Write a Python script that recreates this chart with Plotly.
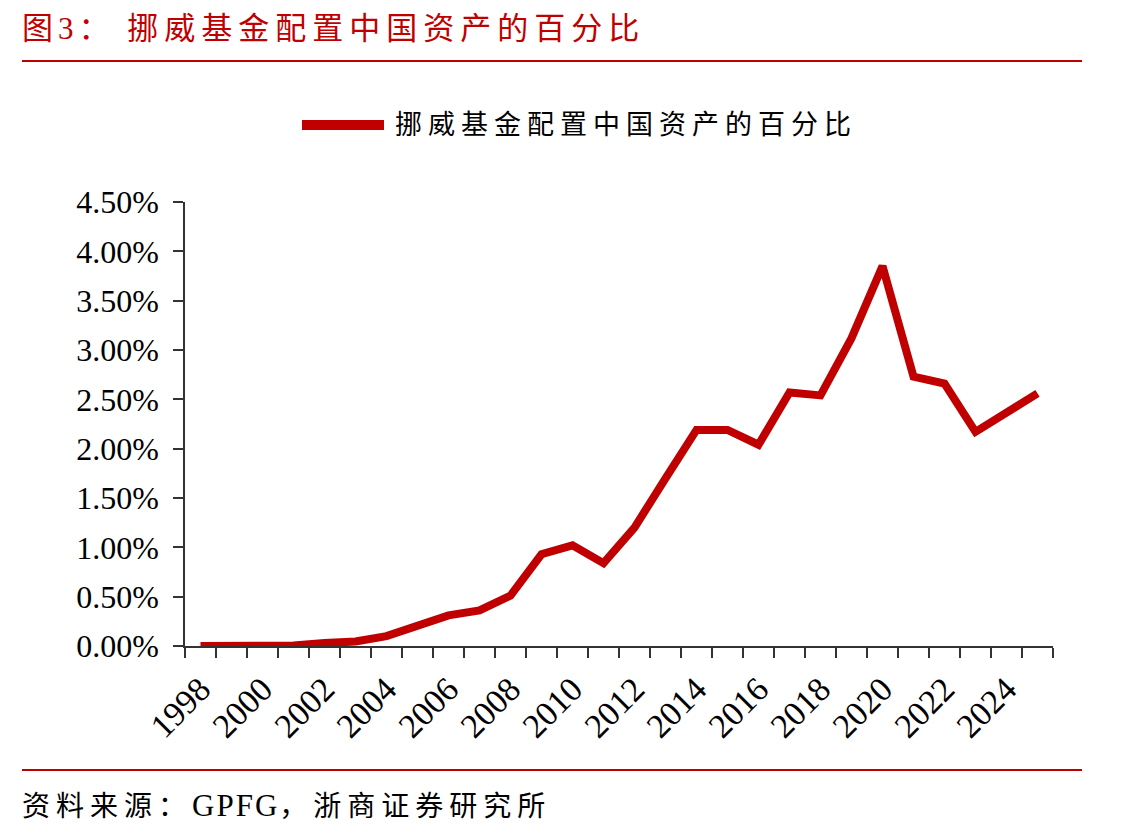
import plotly.graph_objects as go

# ---- data ----
years = list(range(1998, 2026))
share_pct = [0.00, 0.00, 0.00, 0.005, 0.03, 0.045, 0.10, 0.20, 0.31, 0.36,
             0.51, 0.93, 1.02, 0.84, 1.20, 1.70, 2.19, 2.19, 2.04, 2.57,
             2.54, 3.12, 3.85, 2.73, 2.66, 2.17, 2.36, 2.56]
x_tick_years = list(range(1998, 2025, 2))
x_tick_labels = [str(y) for y in x_tick_years]
y_tick_vals = [0, 0.5, 1.0, 1.5, 2.0, 2.5, 3.0, 3.5, 4.0, 4.5]
y_tick_labels = ["%.2f%%" % v for v in y_tick_vals]

series_name = "挪威基金配置中国资产的百分比"
title_prefix = "图3："
title_body = "挪威基金配置中国资产的百分比"
source_parts = ["资料来源：", "GPFG", "，浙商证券研究所"]

# ---- layout constants ----
W, H = 1141, 840
L, R, T, B = 185, 1053, 202, 646
RED = "#C00000"
FONT = "Liberation Serif, Noto Sans CJK SC, serif"


def px(xp):
    return (xp - L) / (R - L)


def py(yp):
    return (B - yp) / (B - T)


def spaced(s, ls, size=None):
    st = "letter-spacing:%dpx" % ls
    if size:
        st += ";font-size:%dpx" % size
    return '<span style="%s">%s</span>' % (st, s)


fig = go.Figure()
fig.add_trace(go.Scatter(
    x=years, y=share_pct, mode="lines", name=series_name,
    line=dict(color=RED, width=8, shape="linear"),
    cliponaxis=False, showlegend=False,
))

fig.update_layout(
    width=W, height=H,
    margin=dict(l=L, r=W - R, t=T, b=H - B, pad=0),
    paper_bgcolor="white", plot_bgcolor="white",
    font=dict(family=FONT, size=30, color="black"),
    xaxis=dict(
        range=[1997.5, 2025.5],
        tickmode="array", tickvals=x_tick_years, ticktext=x_tick_labels,
        tickangle=-45, ticks="", showgrid=False, zeroline=False,
        showline=True, linecolor="#333333", linewidth=1.5,
        ticklabelstandoff=8,
        tickfont=dict(family=FONT, size=34, color="black"),
        minor=dict(tickmode="array",
                   tickvals=[y - 0.5 for y in years] + [years[-1] + 0.5],
                   ticks="outside", ticklen=10, tickwidth=1.5,
                   tickcolor="#333333", showgrid=False),
    ),
    yaxis=dict(
        range=[0, 4.5],
        tickmode="array", tickvals=y_tick_vals, ticktext=y_tick_labels,
        ticks="outside", ticklen=10, tickwidth=1.5, tickcolor="#333333",
        showgrid=False, zeroline=False,
        showline=True, linecolor="#333333", linewidth=1.5,
        ticklabelstandoff=8,
        tickfont=dict(family=FONT, size=32, color="black"),
    ),
    showlegend=False,
)

shapes = [
    # top red rule
    dict(type="line", xref="paper", yref="paper",
         x0=px(22), x1=px(1082), y0=py(61), y1=py(61),
         line=dict(color=RED, width=2)),
    # bottom red rule
    dict(type="line", xref="paper", yref="paper",
         x0=px(22), x1=px(1082), y0=py(770), y1=py(770),
         line=dict(color=RED, width=2)),
    # legend key
    dict(type="line", xref="paper", yref="paper",
         x0=px(302), x1=px(384), y0=py(125), y1=py(125),
         line=dict(color=RED, width=10)),
]
fig.update_layout(shapes=shapes)

annotations = [
    dict(text=spaced(title_prefix + " ", 5) + spaced(title_body, 6), xref="paper", yref="paper",
         x=px(20), y=py(28), xanchor="left", yanchor="middle",
         showarrow=False, font=dict(family=FONT, size=31, color=RED)),
    dict(text=spaced(series_name, 6), xref="paper", yref="paper",
         x=px(393), y=py(125), xanchor="left", yanchor="middle",
         showarrow=False, font=dict(family=FONT, size=27, color="black")),
    dict(text=spaced(source_parts[0], 6) + spaced(source_parts[1], 2, 31) + spaced(source_parts[2], 6),
         xref="paper", yref="paper",
         x=px(20), y=py(805), xanchor="left", yanchor="middle",
         showarrow=False, font=dict(family=FONT, size=28, color="black")),
]
fig.update_layout(annotations=annotations)

fig.write_html("out.html")
